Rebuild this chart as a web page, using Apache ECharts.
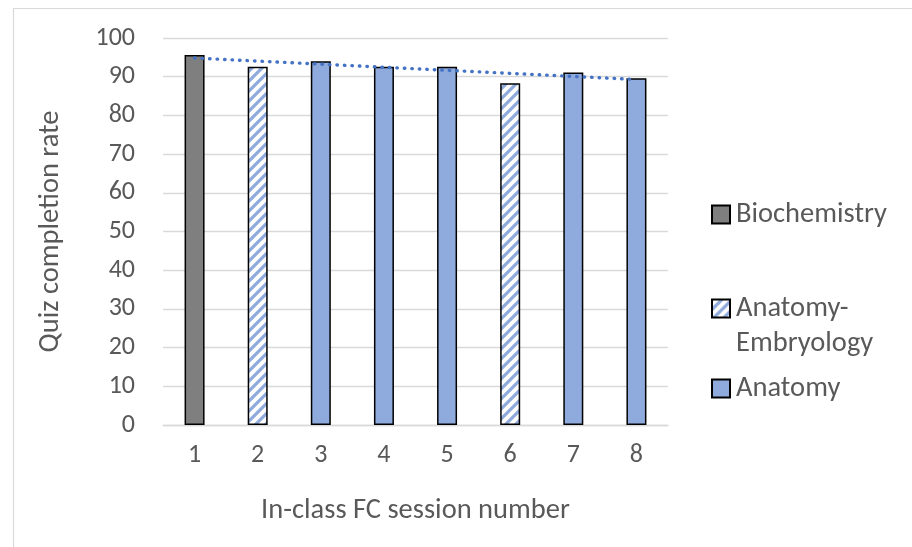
<!DOCTYPE html>
<html>
<head>
<meta charset="utf-8">
<script src="https://cdn.jsdelivr.net/npm/echarts@6/dist/echarts.min.js"></script>
<style>
  html, body { margin: 0; padding: 0; background: #ffffff; }
  #chart { width: 912px; height: 547px; }
</style>
</head>
<body>
<div id="chart"></div>
<script>
// Session numbers on the x axis
const sessions = ['1', '2', '3', '4', '5', '6', '7', '8'];
// Quiz completion rate per in-class session (%)
const completionRate = [95.6, 92.6, 94.0, 92.6, 92.6, 88.3, 91.1, 89.6];
// Subject taught in each session
const sessionSubject = ['Biochemistry', 'Anatomy-Embryology', 'Anatomy', 'Anatomy',
                        'Anatomy', 'Anatomy-Embryology', 'Anatomy', 'Anatomy'];
// Subjects in legend order
const subjects = ['Biochemistry', 'Anatomy-Embryology', 'Anatomy'];
// Y axis ticks
const yTicks = { min: 0, max: 100, step: 10 };

const FONT = 'Carlito, Lato, "Open Sans", sans-serif';
const TEXT = '#595959';
const GRID = '#d9d9d9';
const TICK_SIZE = 26;
const TITLE_SIZE = 28.5;

// Diagonal stripe fill for the Anatomy-Embryology sessions
function stripePattern() {
  const c = document.createElement('canvas');
  const s = 10;
  c.width = s; c.height = s;
  const g = c.getContext('2d');
  g.fillStyle = '#ffffff';
  g.fillRect(0, 0, s, s);
  g.strokeStyle = '#8faadc';
  g.lineWidth = 3.2;
  g.beginPath();
  g.moveTo(-s, 2 * s); g.lineTo(2 * s, -s);
  g.moveTo(-s, s); g.lineTo(s, -s);
  g.moveTo(0, 2 * s); g.lineTo(2 * s, 0);
  g.stroke();
  return { image: c, repeat: 'repeat' };
}

const fills = {
  'Biochemistry': '#7f7f7f',
  'Anatomy-Embryology': stripePattern(),
  'Anatomy': '#8faadc'
};

// Least-squares linear trend of completion rate over sessions
function linearTrend(values) {
  const n = values.length;
  const xs = values.map((_, i) => i + 1);
  const mx = xs.reduce((a, b) => a + b, 0) / n;
  const my = values.reduce((a, b) => a + b, 0) / n;
  let sxy = 0, sxx = 0;
  xs.forEach((x, i) => { sxy += (x - mx) * (values[i] - my); sxx += (x - mx) * (x - mx); });
  const slope = sxy / sxx;
  return xs.map(x => +(my + slope * (x - mx)).toFixed(3));
}

const barSeries = subjects.map(name => ({
  name: name,
  type: 'bar',
  barWidth: 20,
  barGap: '-100%',
  itemStyle: { color: fills[name], borderColor: '#000000', borderWidth: 1.5 },
  data: completionRate.map((v, i) => sessionSubject[i] === name ? v : null),
  animation: false
}));

const trendSeries = {
  name: 'Trend',
  type: 'line',
  data: linearTrend(completionRate),
  showSymbol: false,
  symbol: 'none',
  lineStyle: { color: '#4472c4', width: 3.4, type: [0.5, 7], cap: 'round' },
  z: 5,
  animation: false
};

const legendBase = {
  orient: 'vertical',
  left: 711,
  padding: 0,
  itemWidth: 18,
  itemHeight: 18,
  itemGap: 0,
  icon: 'rect',
  selectedMode: false,
  textStyle: { fontFamily: FONT, fontSize: TITLE_SIZE, color: TEXT, padding: [0, 0, 0, 1] }
};

const chart = echarts.init(document.getElementById('chart'), null, { renderer: 'canvas' });
chart.setOption({
  backgroundColor: '#ffffff',
  animation: false,
  grid: { left: 163, right: 244, top: 38, bottom: 122, containLabel: false },
  legend: [
    Object.assign({}, legendBase, { top: 200, data: ['Biochemistry'] }),
    Object.assign({}, legendBase, { top: 294, data: ['Anatomy-Embryology'],
      formatter: () => 'Anatomy-' }),
    Object.assign({}, legendBase, { top: 374, data: ['Anatomy'] })
  ],
  graphic: [
    {
      type: 'rect',
      silent: true,
      shape: { x: 13.5, y: 8.5, width: 1200, height: 1200 },
      style: { fill: 'none', stroke: GRID, lineWidth: 1.2 }
    },
    {
      type: 'text',
      left: 736,
      top: 329,
      silent: true,
      style: { text: 'Embryology', font: TITLE_SIZE + 'px ' + FONT, fill: TEXT }
    }
  ],
  xAxis: {
    type: 'category',
    data: sessions,
    name: 'In-class FC session number',
    nameLocation: 'middle',
    nameGap: 71,
    nameTextStyle: { fontFamily: FONT, fontSize: TITLE_SIZE, color: TEXT },
    axisLine: { lineStyle: { color: GRID, width: 1.3 } },
    axisTick: { show: false },
    axisLabel: { fontFamily: FONT, fontSize: TICK_SIZE, color: TEXT, margin: 17 }
  },
  yAxis: {
    type: 'value',
    min: yTicks.min,
    max: yTicks.max,
    interval: yTicks.step,
    name: 'Quiz completion rate',
    nameLocation: 'middle',
    nameGap: 98,
    nameTextStyle: { fontFamily: FONT, fontSize: TITLE_SIZE, color: TEXT },
    axisLine: { show: false },
    axisTick: { show: false },
    splitLine: { lineStyle: { color: GRID, width: 1.3 } },
    axisLabel: { fontFamily: FONT, fontSize: TICK_SIZE, color: TEXT, margin: 28 }
  },
  series: barSeries.concat([trendSeries])
});
</script>
</body>
</html>
